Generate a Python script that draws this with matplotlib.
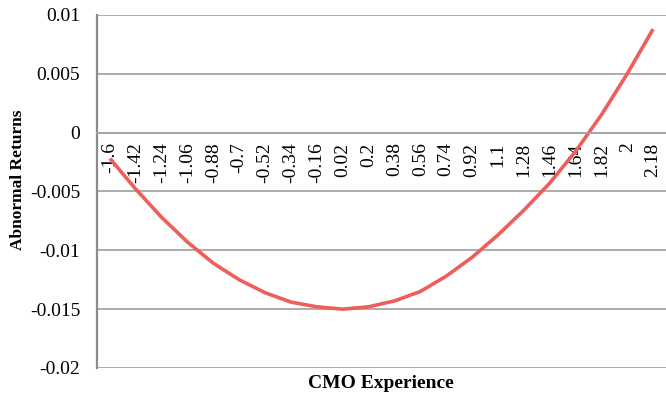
import numpy as np
from matplotlib import pyplot as plt

experience = ['-1.6', '-1.42', '-1.24', '-1.06', '-0.88', '-0.7', '-0.52', '-0.34',
              '-0.16', '0.02', '0.2', '0.38', '0.56', '0.74', '0.92', '1.1',
              '1.28', '1.46', '1.64', '1.82', '2', '2.18']
abnormal_returns = [-0.0022, -0.0048, -0.0072, -0.0093, -0.0111, -0.0125, -0.0136, -0.0144,
                    -0.0148, -0.0150, -0.0148, -0.0143, -0.0135, -0.0122, -0.0106, -0.0087,
                    -0.0066, -0.0043, -0.0016, 0.0015, 0.0050, 0.0088]
y_ticks = [-0.02, -0.015, -0.01, -0.005, 0, 0.005, 0.01]
y_labels = ['-0.02', '-0.015', '-0.01', '-0.005', '0', '0.005', '0.01']

plt.rcParams['font.family'] = ['Liberation Serif', 'DejaVu Serif']

fig = plt.figure(figsize=(6.66, 3.99), dpi=100)
ax = fig.add_axes([97 / 666, 1 - 368 / 399, (666 - 97) / 666, (368 - 15) / 399])

# axis line sits at y = 0 (set this first, it resets the ticks)
for side in ['top', 'right']:
    ax.spines[side].set_visible(False)
ax.spines['bottom'].set_position(('data', 0))
ax.spines['bottom'].set_color('#A6A6A6')
ax.spines['bottom'].set_linewidth(1.3)
ax.spines['left'].set_color('#8C8C8C')
ax.spines['left'].set_linewidth(1.6)

x = np.arange(len(experience))
ax.plot(x, abnormal_returns, color='#EE5E5A', lw=2.6, solid_capstyle='butt')

ax.set_xlim(-0.5, len(experience) - 0.5)
ax.set_ylim(-0.02, 0.01)
ax.set_yticks(y_ticks)
ax.set_yticklabels(y_labels, fontsize=14)
ax.set_xticks(x)
ax.set_xticklabels(experience, rotation=90, fontsize=14, va='top', ha='center')
ax.tick_params(axis='both', length=0)
ax.tick_params(axis='y', pad=12)
ax.tick_params(axis='x', pad=7)

ax.grid(axis='y', color='#A6A6A6', lw=1.3)
ax.set_axisbelow(True)

fig.text(18 / 666, 1 - 180 / 399, 'Abnormal Returns', rotation=90, fontsize=12.5,
         fontweight='bold', ha='center', va='center')
fig.text(381 / 666, 1 - 383 / 399, 'CMO Experience', fontsize=14,
         fontweight='bold', ha='center', va='center')

fig.savefig('out.png', dpi=100)
